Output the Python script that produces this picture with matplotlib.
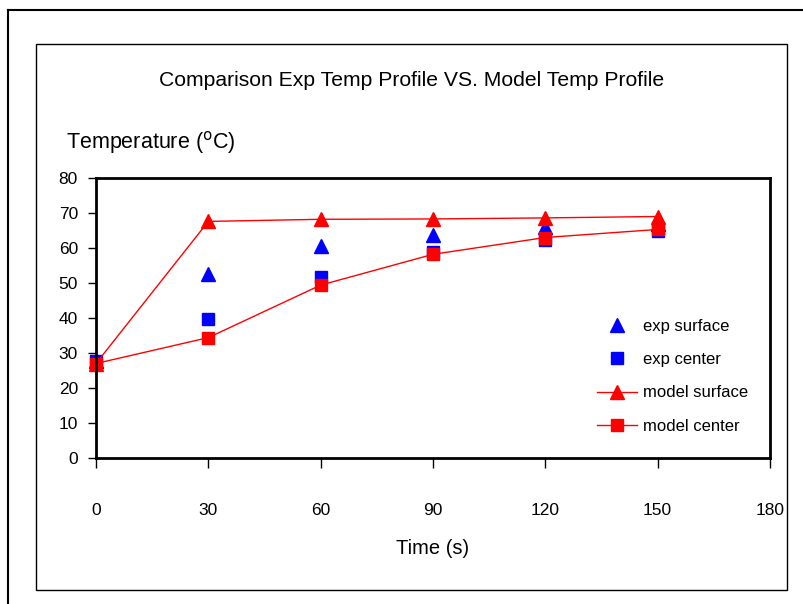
import matplotlib
matplotlib.use("Agg")
import matplotlib.pyplot as plt
from matplotlib.lines import Line2D
from matplotlib.patches import Rectangle

plt.rcParams['font.family'] = ['Liberation Sans', 'DejaVu Sans']

time_s = [0, 30, 60, 90, 120, 150]
exp_surface = [27.8, 52.5, 60.5, 63.7, 66.0, 67.0]
exp_center = [27.7, 39.6, 51.8, 58.8, 62.3, 64.8]
model_surface = [27.0, 67.6, 68.2, 68.3, 68.6, 69.0]
model_center = [27.0, 34.4, 49.4, 58.2, 63.0, 65.3]
x_ticks = [0, 30, 60, 90, 120, 150, 180]
y_ticks = [0, 10, 20, 30, 40, 50, 60, 70, 80]

W, H = 804, 604
fig = plt.figure(figsize=(W/100, H/100), dpi=100)

# outer frame lines
fig.add_artist(Line2D([8/W, 1], [1-10/H, 1-10/H], transform=fig.transFigure, color='black', lw=1.5))
fig.add_artist(Line2D([8/W, 8/W], [0, 1-10/H], transform=fig.transFigure, color='black', lw=1.5))
# inner chart box
fig.add_artist(Rectangle((36/W, 1-590/H), (787-36)/W, (590-44)/H, transform=fig.transFigure,
                         fill=False, edgecolor='black', lw=1))

ax = fig.add_axes([96/W, 1-458/H, (770-96)/W, (458-178)/H])
ax.plot(time_s, exp_surface, linestyle='none', marker='^', color='#0000ff', markersize=10, label='exp surface')
ax.plot(time_s, exp_center, linestyle='none', marker='s', color='#0000ff', markersize=8.5, label='exp center')
ax.plot(time_s, model_surface, linestyle='-', lw=1, marker='^', color='#ff0000', markersize=10, label='model surface')
ax.plot(time_s, model_center, linestyle='-', lw=1, marker='s', color='#ff0000', markersize=8.5, label='model center')

ax.set_xlim(0, 180)
ax.set_ylim(0, 80)
ax.set_xticks(x_ticks)
ax.set_yticks(y_ticks)
ax.tick_params(axis='x', direction='out', length=7, width=1, pad=25.5, labelsize=12.5)
ax.tick_params(axis='y', direction='out', length=6, width=1, pad=7, labelsize=12.5)
for s in ax.spines.values():
    s.set_linewidth(2)
    s.set_color('black')
for ln in ax.lines:
    ln.set_clip_on(False)

ax.set_xlabel('Time (s)', fontsize=14.5, labelpad=15)
fig.text(66/W, 1-143/H, r'Temperature ($^{\mathrm{o}}$C)', fontsize=15.5, ha='left', va='center',
         math_fontfamily='dejavusans')
fig.text(412/W, 1-80/H, 'Comparison Exp Temp Profile VS. Model Temp Profile', fontsize=15.2,
         ha='center', va='center')

leg = ax.legend(loc='lower left', bbox_to_anchor=(0.733, 0.063), frameon=False, fontsize=12,
                labelspacing=1.1, handlelength=2.4, handletextpad=0.4, borderaxespad=0)

fig.savefig('out.png', dpi=100)
